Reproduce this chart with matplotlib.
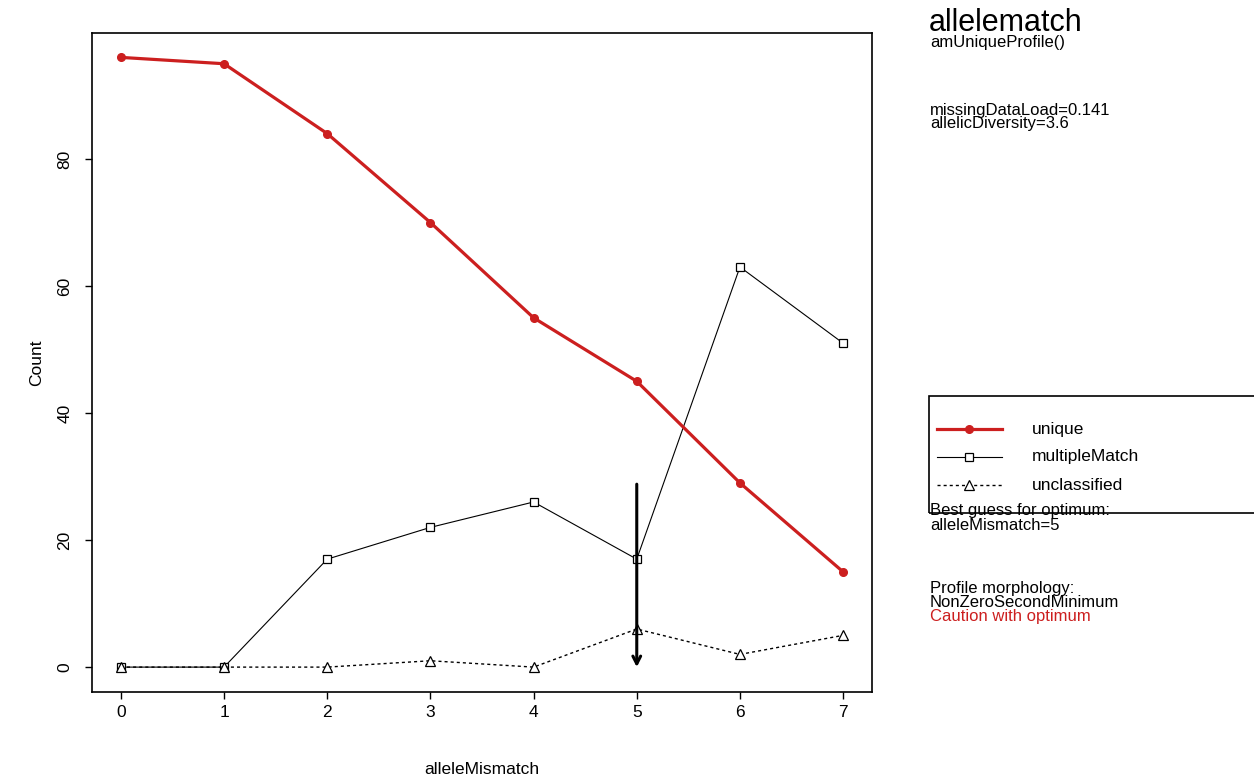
import matplotlib
matplotlib.use("Agg")
import matplotlib.pyplot as plt
from matplotlib.lines import Line2D
from matplotlib.patches import Rectangle

plt.rcParams['font.family'] = ['Liberation Sans', 'DejaVu Sans']

allele_mismatch = [0, 1, 2, 3, 4, 5, 6, 7]
unique = [96, 95, 84, 70, 55, 45, 29, 15]
multiple_match = [0, 0, 17, 22, 26, 17, 63, 51]
unclassified = [0, 0, 0, 1, 0, 6, 2, 5]
y_ticks = [0, 20, 40, 60, 80]
best_guess = 5
arrow_top = 0.3 * max(unique)

RED = '#cc1f1f'
W, H = 1254, 780

styles = {
    'unique': dict(color=RED, lw=2.3, marker='o', ms=5.5, mfc=RED, mec=RED),
    'multipleMatch': dict(color='black', lw=0.8, marker='s', ms=6,
                          mfc='white', mec='black', mew=0.9),
    'unclassified': dict(color='black', lw=1.0, ls=(0, (2.2, 2.2)), marker='^',
                         ms=7, mfc='white', mec='black', mew=0.9),
}

fig = plt.figure(figsize=(W / 100, H / 100), dpi=100)
fig.patch.set_facecolor('white')
ax = fig.add_axes([92 / W, (H - 691.5) / H, 780 / W, 658.5 / H])

ax.plot(allele_mismatch, unique, zorder=4, **styles['unique'])
ax.plot(allele_mismatch, multiple_match, zorder=3, **styles['multipleMatch'])
ax.plot(allele_mismatch, unclassified, zorder=3, **styles['unclassified'])

ax.annotate('', xy=(best_guess, 0), xytext=(best_guess, arrow_top),
            arrowprops=dict(arrowstyle='->,head_length=0.55,head_width=0.28',
                            color='black', lw=2.2, shrinkA=0, shrinkB=0),
            zorder=5)

ax.set_xlim(-0.28, 7.28)
ax.set_ylim(-0.04 * 96, 96 * 1.04)
ax.set_xticks(allele_mismatch)
ax.set_yticks(y_ticks)
ax.set_yticklabels([str(v) for v in y_ticks], rotation=90, va='center')
ax.tick_params(direction='out', length=5, width=1, labelsize=12.5)
ax.tick_params(axis='x', pad=5)
ax.tick_params(axis='y', pad=9)
for s in ax.spines.values():
    s.set_linewidth(1.2)
ax.set_xlabel('alleleMismatch', fontsize=12.5, va='center')
ax.set_ylabel('Count', fontsize=12.5, va='center', ha='center')
ax.xaxis.set_label_coords(0.5, (691.5 - 769) / 658.5)
ax.yaxis.set_label_coords((37 - 92) / 780, 0.5)

# Side panel text
def ftext(x, y, s, **kw):
    fig.text(x / W, 1 - y / H, s, va='baseline', ha='left', **kw)

ftext(929, 31, 'allelematch', fontsize=22)
ftext(930, 47, 'amUniqueProfile()', fontsize=12)
ftext(930, 115, 'missingDataLoad=0.141', fontsize=12)
ftext(930, 128, 'allelicDiversity=3.6', fontsize=12)
ftext(930, 515, 'Best guess for optimum:', fontsize=12)
ftext(930, 530, 'alleleMismatch=5', fontsize=12)
ftext(930, 593, 'Profile morphology:', fontsize=12)
ftext(930, 607, 'NonZeroSecondMinimum', fontsize=12)
ftext(930, 621, 'Caution with optimum', fontsize=12, color=RED)

# Legend box
fig.add_artist(Rectangle((929 / W, 1 - 513 / H), 400 / W, 117 / H,
                         transform=fig.transFigure, fill=False, ec='black',
                         lw=1.2, clip_on=False))
marker_keys = ('marker', 'ms', 'mfc', 'mec', 'mew')
for y, label in [(429, 'unique'), (457, 'multipleMatch'), (485, 'unclassified')]:
    st = styles[label]
    yf = 1 - y / H
    fig.add_artist(Line2D([937 / W, 1002 / W], [yf, yf], transform=fig.transFigure,
                          **{k: v for k, v in st.items() if k not in marker_keys}))
    fig.add_artist(Line2D([969 / W], [yf], transform=fig.transFigure, lw=0,
                          **{k: v for k, v in st.items() if k in marker_keys}))
    fig.text(1032 / W, yf, label, fontsize=12.5, va='center', ha='left')

fig.savefig('out.png', dpi=100, facecolor='white')
